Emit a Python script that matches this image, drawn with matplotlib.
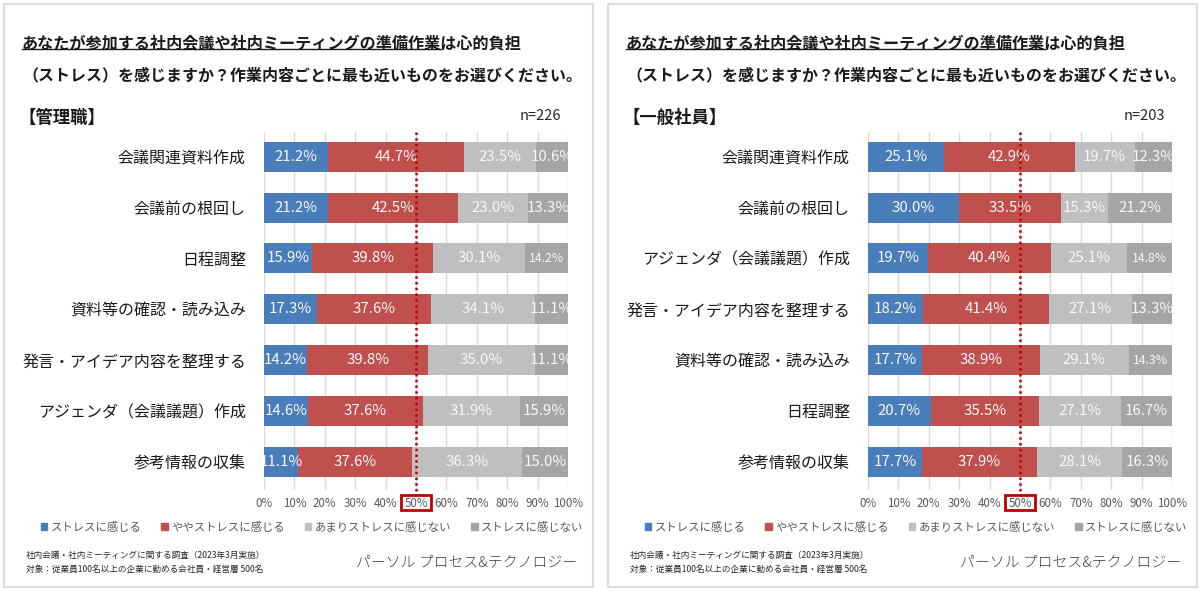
import numpy as np
import matplotlib
matplotlib.use("Agg")
import matplotlib.pyplot as plt
import matplotlib.patches as mpatches
from matplotlib.lines import Line2D
from matplotlib.transforms import blended_transform_factory

plt.rcParams['font.family'] = ['Noto Sans CJK JP', 'DejaVu Sans']

# Daten: 管理職 (n=226)
cats_mgr = ["会議関連資料作成", "会議前の根回し", "日程調整", "資料等の確認・読み込み",
            "発言・アイデア内容を整理する", "アジェンダ（会議議題）作成", "参考情報の収集"]
stress_mgr = [21.2, 21.2, 15.9, 17.3, 14.2, 14.6, 11.1]
some_mgr = [44.7, 42.5, 39.8, 37.6, 39.8, 37.6, 37.6]
little_mgr = [23.5, 23.0, 30.1, 34.1, 35.0, 31.9, 36.3]
none_mgr = [10.6, 13.3, 14.2, 11.1, 11.1, 15.9, 15.0]

# Daten: 一般社員 (n=203)
cats_emp = ["会議関連資料作成", "会議前の根回し", "アジェンダ（会議議題）作成",
            "発言・アイデア内容を整理する", "資料等の確認・読み込み", "日程調整", "参考情報の収集"]
stress_emp = [25.1, 30.0, 19.7, 18.2, 17.7, 20.7, 17.7]
some_emp = [42.9, 33.5, 40.4, 41.4, 38.9, 35.5, 37.9]
little_emp = [19.7, 15.3, 25.1, 27.1, 29.1, 27.1, 28.1]
none_emp = [12.3, 21.2, 14.8, 13.3, 14.3, 16.7, 16.3]

legend_labels = ["ストレスに感じる", "ややストレスに感じる", "あまりストレスに感じない", "ストレスに感じない"]
colors = ["#4a7ebb", "#c0504d", "#bfbfbf", "#a5a5a5"]
xticks = list(range(0, 101, 10))

title_ul = "あなたが参加する社内会議や社内ミーティングの準備作業"
title_rest = "は心的負担"
title_line2 = "（ストレス）を感じますか？作業内容ごとに最も近いものをお選びください。"
footer1 = "社内会議・社内ミーティングに関する調査（2023年3月実施）"
footer2 = "対象：従業員100名以上の企業に勤める会社員・経営層 500名"
brand = "パーソル プロセス&テクノロジー"

W, H = 1200, 591
fig = plt.figure(figsize=(W / 100, H / 100), dpi=100)
renderer = fig.canvas.get_renderer()


def fx(x):
    return x / W


def fy(y):
    return 1 - y / H


def draw_panel(off, group, n, cats, series):
    # Rahmen um das Panel
    fig.patches.append(mpatches.Rectangle((fx(4 + off), fy(587)), 589 / W, 583 / H,
                                          transform=fig.transFigure, fill=False,
                                          edgecolor="#dcdcdc", lw=1.5))

    # Titel: Breite des unterstrichenen Teils messen, dann ganze Zeile schreiben
    tmp = fig.text(fx(22 + off), fy(43), title_ul, fontsize=11.6, fontweight="bold",
                   va="center", ha="left")
    bb = tmp.get_window_extent(renderer)
    tmp.remove()
    fig.text(fx(22 + off), fy(43), title_ul + title_rest, fontsize=11.6, fontweight="bold",
             va="center", ha="left", color="#1a1a1a")
    fig.add_artist(Line2D([bb.x0 / W, bb.x1 / W], [fy(49), fy(49)],
                          transform=fig.transFigure, color="#1a1a1a", lw=1))
    fig.text(fx(22 + off), fy(75), title_line2, fontsize=11.5, fontweight="bold",
             va="center", ha="left", color="#1a1a1a")

    fig.text(fx(18 + off), fy(118), group, fontsize=12.5, fontweight="bold",
             va="center", ha="left", color="#1a1a1a")
    fig.text(fx(561 + off), fy(116), "n=%d" % n, fontsize=10.5,
             va="center", ha="right", color="#262626")

    ax = fig.add_axes([fx(264 + off), fy(490), 304 / W, 358 / H])
    y = np.arange(len(cats))
    left = np.zeros(len(cats))
    for k, vals in enumerate(series):
        vals = np.array(vals)
        ax.barh(y, vals, left=left, height=0.59, color=colors[k], zorder=2)
        for i, v in enumerate(vals):
            fs = 10.8
            if k == 3 and 13.5 < v < 15:
                fs = 8.8
            ax.text(left[i] + v / 2, i, "%.1f%%" % v, ha="center", va="center",
                    color="#f8f8f8", fontsize=fs, clip_on=True, zorder=3)
        left += vals

    ax.set_xlim(0, 100)
    ax.set_ylim(6.56, -0.49)
    ax.set_xticks(xticks)
    ax.set_xticklabels(["%d%%" % v for v in xticks], fontsize=8.3, color="#595959")
    ax.set_yticks(y)
    ax.set_yticklabels(cats, fontsize=11.5, color="#1a1a1a")
    ax.tick_params(length=0)
    ax.tick_params(axis="x", pad=5)
    ax.tick_params(axis="y", pad=13)
    ax.grid(axis="x", color="#d9d9d9", lw=1, zorder=0)
    ax.set_axisbelow(True)
    for s in ax.spines.values():
        s.set_visible(False)

    # 50%-Linie und rote Markierung
    tr = blended_transform_factory(ax.transData, ax.transAxes)
    ax.plot([50, 50], [1.0, -0.014], transform=tr, color="#c00000", lw=1.8,
            linestyle=(0, (1, 1.3)), clip_on=False, zorder=4)
    ax.add_patch(mpatches.Rectangle((45.1, -0.056), 9.9, 0.042, transform=tr,
                                    fill=False, edgecolor="#c00000", lw=2,
                                    clip_on=False, zorder=4))

    handles = [mpatches.Patch(color=c) for c in colors]
    fig.legend(handles, legend_labels, loc="center",
               bbox_to_anchor=(fx(312 + off), fy(527)), ncol=4, frameon=False,
               handlelength=0.6, handleheight=0.6, handletextpad=0.3,
               columnspacing=1.7, fontsize=8.2, labelcolor="#595959")

    fig.text(fx(26 + off), fy(555), footer1, fontsize=6.2, va="center", color="#262626")
    fig.text(fx(26 + off), fy(569), footer2, fontsize=6.2, va="center", color="#262626")
    fig.text(fx(577 + off), fy(562), brand, fontsize=10.7, fontweight="light",
             va="center", ha="right", color="#404040")


draw_panel(0, "【管理職】", 226, cats_mgr,
           [stress_mgr, some_mgr, little_mgr, none_mgr])
draw_panel(604, "【一般社員】", 203, cats_emp,
           [stress_emp, some_emp, little_emp, none_emp])

fig.savefig("out.png", dpi=100)
